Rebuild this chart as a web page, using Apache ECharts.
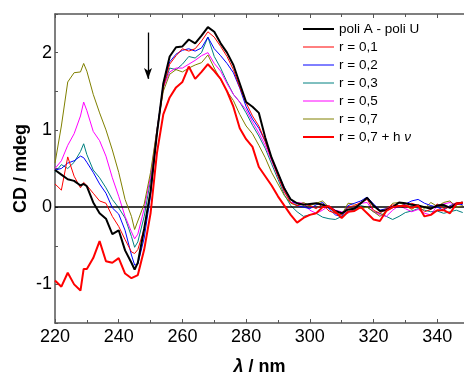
<!DOCTYPE html>
<html>
<head>
<meta charset="utf-8">
<script src="https://cdn.jsdelivr.net/npm/echarts@6/dist/echarts.min.js"></script>
<style>
html,body{margin:0;padding:0;background:#fff;}
#chart{width:464px;height:372px;}
</style>
</head>
<body>
<div id="chart"></div>
<script>
// Wavelength (nm)
const lambda = [220,222,224,226,228,229,230,232,234,236,238,240,242,244,245,246,248,250,252,254,256,258,260,262,264,266,268,270,272,274,276,278,280,282,284,286,288,290,292,294,296,298,300,302,304,306,308,310,312,314,316,318,320,322,324,326,328,330,332,334,336,338,340,342,344,346,348];

const seriesNames = ['poli A - poli U','r = 0,1','r = 0,2','r = 0,3','r = 0,5','r = 0,7','r = 0,7 + h\u03bd'];

const cdPoly = [0.48,0.42,0.36,0.34,0.28,0.30,0.27,0.06,-0.08,-0.15,-0.35,-0.30,-0.56,-0.72,-0.81,-0.72,-0.28,0.20,0.95,1.60,1.95,2.07,2.08,2.17,2.12,2.22,2.33,2.27,2.12,2.00,1.84,1.60,1.36,1.30,1.22,0.90,0.64,0.44,0.24,0.10,0.05,0.03,0.04,0.05,0.03,0.00,-0.05,-0.08,-0.03,-0.02,0.05,0.12,0.02,-0.05,-0.04,0.00,0.06,0.05,0.03,0.02,0.00,-0.02,0.02,0.03,-0.01,0.04,0.06];

const cdR01 = [0.30,0.22,0.65,0.40,0.25,0.32,0.28,0.18,0.08,0.05,-0.12,-0.25,-0.42,-0.58,-0.60,-0.55,-0.28,0.22,0.95,1.55,1.85,1.96,2.05,2.02,2.05,2.15,2.27,2.20,2.08,1.95,1.78,1.55,1.35,1.18,1.05,0.85,0.62,0.40,0.20,0.06,0.02,0.04,0.02,-0.02,0.04,-0.05,-0.08,-0.10,0.00,0.02,0.06,0.10,-0.04,-0.08,-0.02,0.03,0.02,0.00,0.05,0.02,-0.06,-0.03,0.04,-0.02,0.00,0.06,0.05];

const cdR02 = [0.48,0.50,0.57,0.60,0.66,0.64,0.58,0.45,0.30,0.18,-0.01,-0.09,-0.30,-0.62,-0.75,-0.74,-0.40,0.15,0.95,1.60,1.88,1.98,2.03,2.05,2.02,2.06,2.20,2.05,1.96,1.86,1.74,1.54,1.30,1.14,1.02,0.85,0.64,0.44,0.25,0.10,0.02,0.00,-0.02,0.03,0.06,-0.02,-0.10,-0.12,0.02,0.05,0.08,0.13,0.04,-0.04,-0.02,0.01,0.00,0.04,0.08,0.10,0.05,0.02,0.00,-0.04,0.02,0.05,0.03];

const cdR03 = [0.45,0.55,0.50,0.58,0.72,0.82,0.68,0.48,0.38,0.25,0.10,-0.01,-0.14,-0.38,-0.52,-0.45,-0.12,0.35,1.00,1.55,1.80,1.78,1.85,1.95,1.93,2.00,2.20,1.95,1.80,1.62,1.46,1.36,1.22,1.06,0.92,0.76,0.56,0.36,0.16,0.02,-0.06,-0.12,-0.10,-0.08,-0.13,-0.15,-0.16,-0.12,-0.05,-0.04,0.02,0.00,-0.06,-0.08,-0.12,-0.16,-0.12,-0.07,-0.05,-0.02,-0.04,-0.06,-0.05,-0.08,-0.06,-0.04,-0.07];

const cdR05 = [0.50,0.60,0.80,0.95,1.18,1.36,1.25,0.98,0.86,0.66,0.38,0.14,-0.12,-0.32,-0.41,-0.35,-0.02,0.40,1.00,1.55,1.75,1.80,1.80,1.85,1.90,1.96,2.00,1.86,1.76,1.60,1.46,1.36,1.26,1.10,0.96,0.80,0.60,0.40,0.20,0.06,0.06,0.05,-0.04,-0.08,-0.04,0.02,-0.04,-0.06,-0.08,0.00,0.05,0.06,-0.06,-0.10,-0.12,-0.04,0.02,-0.02,-0.06,-0.03,-0.08,-0.10,0.02,0.04,0.06,0.03,0.05];

const cdR07 = [0.57,1.05,1.62,1.74,1.75,1.86,1.76,1.46,1.22,1.00,0.74,0.45,0.10,-0.12,-0.29,-0.18,0.04,0.45,1.00,1.50,1.72,1.78,1.75,1.80,1.84,1.87,1.97,1.80,1.65,1.50,1.38,1.20,1.05,0.95,0.80,0.64,0.45,0.30,0.15,0.05,0.02,0.06,0.02,0.05,0.08,0.00,-0.08,-0.10,0.05,0.04,-0.02,0.00,-0.06,-0.12,-0.05,0.05,0.06,0.02,-0.03,0.03,-0.02,0.06,0.01,0.06,0.08,0.00,0.02];

const cdR07hv = [-0.95,-1.03,-0.85,-1.00,-1.08,-0.80,-0.80,-0.66,-0.44,-0.70,-0.72,-0.66,-0.86,-0.92,-0.90,-0.88,-0.55,-0.08,0.70,1.20,1.42,1.55,1.62,1.82,1.66,1.75,1.85,1.76,1.66,1.50,1.30,1.02,0.88,0.78,0.52,0.40,0.28,0.14,0.02,-0.10,-0.20,-0.14,-0.10,-0.08,0.00,0.01,-0.06,-0.14,-0.06,-0.05,0.00,-0.08,-0.16,-0.18,-0.05,0.00,0.01,0.02,-0.01,0.02,-0.12,-0.10,-0.04,-0.04,-0.08,0.04,0.06];

const xTicks = [220,240,260,280,300,320,340];
const yTickLabels = [-1,0,1,2];
const arrowFrom = [249.2, 2.26];
const arrowTo = [249.2, 1.66];

const seriesData = [cdPoly, cdR01, cdR02, cdR03, cdR05, cdR07, cdR07hv];
const colors = ['#000000','#ff0000','#0000ff','#008080','#ff00ff','#808000','#ff0000'];
const widths = [2, 1, 1, 1, 1, 1, 2];
const drawOrder = [3,4,5,2,1,0,6];

const FONT = '"Liberation Sans", Arial, sans-serif';
const chart = echarts.init(document.getElementById('chart'), null, {renderer:'canvas'});

const series = drawOrder.map(function(i){
  return {
    name: seriesNames[i],
    type: 'line',
    symbol: 'none',
    showSymbol: false,
    smooth: false,
    color: colors[i],
    lineStyle: {color: colors[i], width: widths[i]},
    data: lambda.map(function(l, k){ return [l, seriesData[i][k]]; }),
    z: 3 + drawOrder.indexOf(i),
    silent: true
  };
});
// zero line and arrow annotation
series.push({
  name: '_zero', type: 'line', data: [], silent: true,
  markLine: {
    silent: true, animation: false,
    symbol: ['none','none'],
    label: {show: false},
    lineStyle: {color:'#000', width:1.5, type:'solid'},
    data: [{yAxis: 0}]
  },
  z: 2
});
series.push({
  name: '_arrow', type: 'line', data: [], silent: true,
  markLine: {
    silent: true, animation: false,
    symbol: ['none','arrow'],
    symbolSize: [6, 11],
    label: {show: false},
    lineStyle: {color:'#000', width:1.3, type:'solid'},
    data: [[{coord: arrowFrom}, {coord: arrowTo}]]
  },
  z: 10
});

const lastName = seriesNames[seriesNames.length - 1];
const option = {
  animation: false,
  backgroundColor: '#fff',
  grid: {left: 55, top: 14, right: 0, bottom: 49, containLabel: false, outerBoundsMode: 'none'},
  legend: {
    data: seriesNames.map(function(n, i){
      return {name: n, itemStyle: {opacity: 0}, lineStyle: {width: widths[i], color: colors[i]}};
    }),
    orient: 'vertical',
    left: 302, top: 22, padding: 0,
    itemWidth: 31, itemHeight: 14, itemGap: 4,
    selectedMode: false,
    itemStyle: {opacity: 0, borderWidth: 0},
    formatter: function(n){ return n === lastName ? 'r = 0,7 + h {i|\u03bd}' : n; },
    textStyle: {fontFamily: FONT, fontSize: 13.5, color: '#000',
      rich: {i: {fontFamily: FONT, fontSize: 13.5, fontStyle: 'italic', color: '#000'}}}
  },
  xAxis: [{
    type: 'value', min: 220, max: 348.4, interval: 20,
    position: 'bottom',
    name: '{i|\u03bb} / nm', nameLocation: 'middle', nameGap: 35, nameMoveOverlap: false,
    nameTextStyle: {fontFamily: FONT, fontSize: 18, fontWeight: 'bold', color: '#000',
      rich: {i: {fontFamily: FONT, fontSize: 18, fontWeight: 'bold', fontStyle: 'italic', color:'#000'}}},
    axisLine: {show: true, onZero: false, lineStyle: {color: '#555', width: 1.5}},
    axisTick: {show: true, inside: true, length: 4, lineStyle: {color:'#555'}},
    minorTick: {show: true, splitNumber: 2, length: 3, lineStyle: {color:'#555'}},
    axisLabel: {fontFamily: FONT, fontSize: 18, color: '#000', margin: 5, showMaxLabel: false,
      formatter: function(v){ return xTicks.indexOf(v) >= 0 ? String(v) : ''; }},
    splitLine: {show: false}
  },{
    type: 'value', min: 220, max: 348.4, interval: 20,
    position: 'top',
    axisLine: {show: true, onZero: false, lineStyle: {color: '#555', width: 1.5}},
    axisTick: {show: true, inside: true, length: 4, lineStyle: {color:'#555'}},
    minorTick: {show: true, splitNumber: 2, length: 3, lineStyle: {color:'#555'}},
    axisLabel: {show: false},
    splitLine: {show: false}
  }],
  yAxis: {
    type: 'value', min: -1.5, max: 2.5, interval: 0.5,
    name: 'CD / mdeg', nameLocation: 'middle', nameGap: 25, nameRotate: 90, nameMoveOverlap: false,
    nameTextStyle: {fontFamily: FONT, fontSize: 18, fontWeight: 'bold', color: '#000'},
    axisLine: {show: true, onZero: false, lineStyle: {color: '#555', width: 1.5}},
    axisTick: {show: true, inside: true, length: 3, lineStyle: {color:'#555'}},
    axisLabel: {fontFamily: FONT, fontSize: 18, color: '#000', margin: 3,
      formatter: function(v){ return yTickLabels.indexOf(v) >= 0 ? String(v) : ''; }},
    splitLine: {show: false}
  },
  series: series
};
chart.setOption(option);
</script>
</body>
</html>
